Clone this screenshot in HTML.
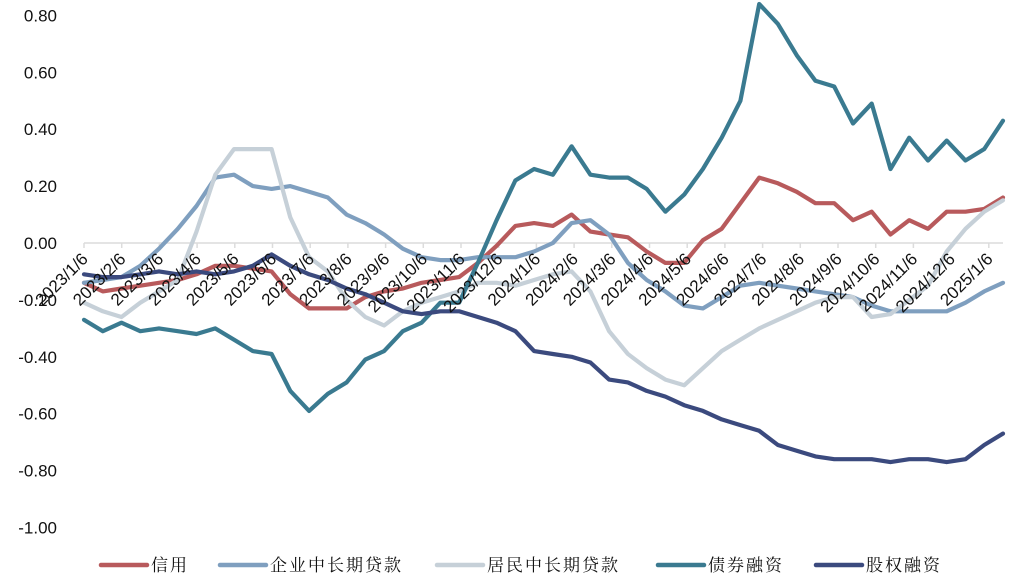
<!DOCTYPE html>
<html><head><meta charset="utf-8">
<style>
html,body{margin:0;padding:0;background:#fff;}
svg{display:block;font-family:"Liberation Sans","Noto Sans CJK SC",sans-serif;}
</style></head>
<body>
<svg id="chart" width="1021" height="585" viewBox="0 0 1021 585" xmlns="http://www.w3.org/2000/svg">
<g id="yaxis"></g>
<g id="xaxis"></g>
<g id="series"></g>
<g id="xlabels"></g>
<g id="legend"></g>
</svg>
<script>
const yTicks = [0.8,0.6,0.4,0.2,0,-0.2,-0.4,-0.6,-0.8,-1.0];
const monthLabels = ["2023/1/6","2023/2/6","2023/3/6","2023/4/6","2023/5/6","2023/6/6","2023/7/6","2023/8/6","2023/9/6","2023/10/6","2023/11/6","2023/12/6","2024/1/6","2024/2/6","2024/3/6","2024/4/6","2024/5/6","2024/6/6","2024/7/6","2024/8/6","2024/9/6","2024/10/6","2024/11/6","2024/12/6","2025/1/6"];
const seriesNames = ["信用","企业中长期贷款","居民中长期贷款","债券融资","股权融资"];
const seriesColors = ["#b85a5c","#7f9fbf","#c6d0d8","#3a7a90","#3b4a7e"];
const credit = [-0.14,-0.17,-0.16,-0.15,-0.14,-0.13,-0.11,-0.08,-0.08,-0.09,-0.10,-0.18,-0.23,-0.23,-0.23,-0.19,-0.17,-0.16,-0.14,-0.13,-0.12,-0.07,-0.01,0.06,0.07,0.06,0.10,0.04,0.03,0.02,-0.03,-0.07,-0.07,0.01,0.05,0.14,0.23,0.21,0.18,0.14,0.14,0.08,0.11,0.03,0.08,0.05,0.11,0.11,0.12,0.16];
const corpLoans = [-0.14,-0.13,-0.12,-0.08,-0.02,0.05,0.13,0.23,0.24,0.20,0.19,0.20,0.18,0.16,0.10,0.07,0.03,-0.02,-0.05,-0.06,-0.06,-0.05,-0.05,-0.05,-0.03,0.00,0.07,0.08,0.03,-0.07,-0.13,-0.17,-0.22,-0.23,-0.19,-0.15,-0.14,-0.15,-0.16,-0.17,-0.18,-0.19,-0.22,-0.24,-0.24,-0.24,-0.24,-0.21,-0.17,-0.14];
const householdLoans = [-0.21,-0.24,-0.26,-0.21,-0.17,-0.13,0.04,0.24,0.33,0.33,0.33,0.09,-0.05,-0.10,-0.20,-0.26,-0.29,-0.24,-0.21,-0.19,-0.17,-0.14,-0.14,-0.15,-0.13,-0.11,-0.10,-0.17,-0.31,-0.39,-0.44,-0.48,-0.50,-0.44,-0.38,-0.34,-0.30,-0.27,-0.24,-0.21,-0.19,-0.19,-0.26,-0.25,-0.20,-0.15,-0.03,0.05,0.11,0.15];
const bonds = [-0.27,-0.31,-0.28,-0.31,-0.30,-0.31,-0.32,-0.30,-0.34,-0.38,-0.39,-0.52,-0.59,-0.53,-0.49,-0.41,-0.38,-0.31,-0.28,-0.21,-0.21,-0.07,0.08,0.22,0.26,0.24,0.34,0.24,0.23,0.23,0.19,0.11,0.17,0.26,0.37,0.50,0.84,0.77,0.66,0.57,0.55,0.42,0.49,0.26,0.37,0.29,0.36,0.29,0.33,0.43];
const equity = [-0.11,-0.12,-0.12,-0.11,-0.10,-0.11,-0.10,-0.11,-0.10,-0.08,-0.04,-0.08,-0.11,-0.13,-0.16,-0.18,-0.21,-0.24,-0.25,-0.24,-0.24,-0.26,-0.28,-0.31,-0.38,-0.39,-0.40,-0.42,-0.48,-0.49,-0.52,-0.54,-0.57,-0.59,-0.62,-0.64,-0.66,-0.71,-0.73,-0.75,-0.76,-0.76,-0.76,-0.77,-0.76,-0.76,-0.77,-0.76,-0.71,-0.67];
const allSeries = [credit, corpLoans, householdLoans, bonds, equity];

const NS = "http://www.w3.org/2000/svg";
const X0 = 84, X1 = 1003, MONTH_STEP = 37.7;
function yScale(v){ return 243 - v * 284.5; }
function xIndex(i, n){ return X0 + i * (X1 - X0) / (n - 1); }
function xMonth(m){ return X0 + m * MONTH_STEP; }
function mk(tag, attrs, parent){
  const el = document.createElementNS(NS, tag);
  for (const k in attrs) el.setAttribute(k, attrs[k]);
  parent.appendChild(el); return el;
}
const yaxis = document.getElementById('yaxis');
yTicks.forEach(t => {
  const tx = mk('text', {x:57, y:yScale(t)+6, 'text-anchor':'end', 'font-size':17, fill:'#111'}, yaxis);
  
  
  tx.textContent = t.toFixed(2);
});
const xaxis = document.getElementById('xaxis');
const zl = mk('line', {x1:X0, x2:X1, y1:yScale(0), y2:yScale(0), stroke:'#dcdcdc', 'stroke-width':1.5}, xaxis);


monthLabels.forEach((lab, m) => {
  const x = xMonth(m);
  const tk = mk('line', {x1:x, x2:x, y1:yScale(0), y2:yScale(0)+5, stroke:'#dcdcdc', 'stroke-width':1.5}, xaxis);
  
  
});
const series = document.getElementById('series');
allSeries.forEach((arr, s) => {
  const pts = arr.map((v, i) => xIndex(i, arr.length).toFixed(1) + ',' + yScale(v).toFixed(1)).join(' ');
  const pl = mk('polyline', {points:pts, fill:'none', stroke:seriesColors[s], 'stroke-width':4.2, 'stroke-linejoin':'round', 'stroke-linecap':'round'}, series);
  
  
});
const xlabels = document.getElementById('xlabels');
monthLabels.forEach((lab, m) => {
  const x = xMonth(m) + 5, y = yScale(0) + 17;
  const t = mk('text', {x:x, y:y, 'text-anchor':'end', 'font-size':17, fill:'#111', transform:'rotate(-45 '+x+' '+y+')'}, xlabels);
  
  
  t.textContent = lab;
});
const legend = document.getElementById('legend');
const legLineX = [101, 220, 437, 658, 816];
seriesNames.forEach((nm, s) => {
  const g = mk('g', {}, legend);
  
  
  const lx = legLineX[s];
  mk('line', {x1:lx, x2:lx+46, y1:565, y2:565, stroke:seriesColors[s], 'stroke-width':4.5, 'stroke-linecap':'round'}, g);
  const t = mk('text', {x:lx+50, y:571, 'font-size':17, fill:'#111', 'letter-spacing':2, 'font-family':'"Noto Serif CJK SC","Noto Sans CJK SC",serif'}, g);
  t.textContent = nm;
});
</script>
</body></html>
